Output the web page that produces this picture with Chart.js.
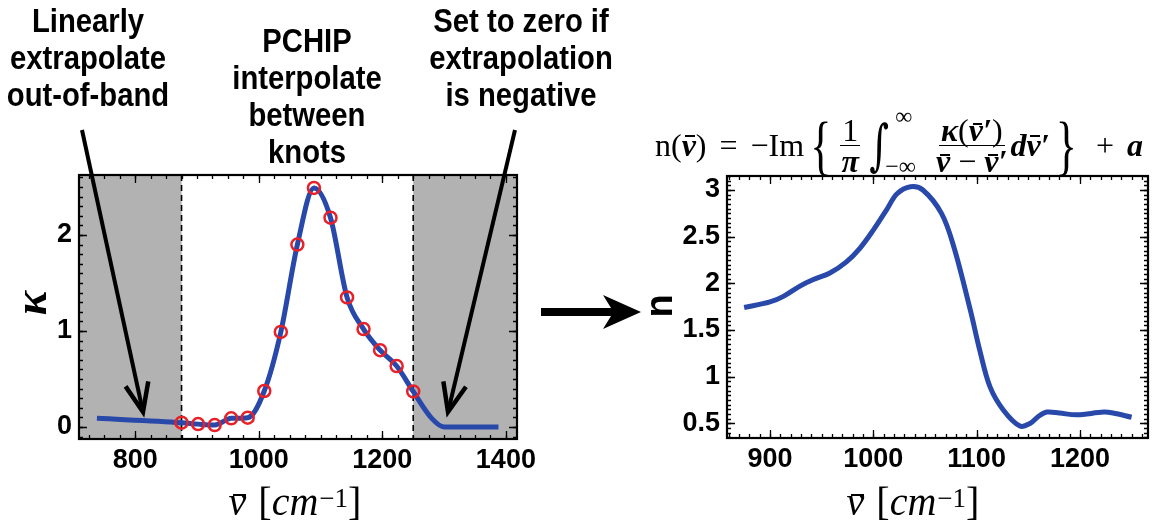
<!DOCTYPE html>
<html>
<head>
<meta charset="utf-8">
<script src="https://cdn.jsdelivr.net/npm/chart.js@4.4.1/dist/chart.umd.min.js"></script>
<style>
  html, body { margin: 0; padding: 0; background: #fff; }
  body { width: 1156px; height: 523px; position: relative; overflow: hidden; }
  canvas { position: absolute; top: 0; }
  #kappaChart { left: 0; }
  #nChart { left: 600px; }
  .note {
    position: absolute; width: 280px; text-align: center;
    font-family: 'Liberation Sans', Arial, sans-serif; font-weight: bold;
    font-size: 34px; line-height: 37px; color: #000;
    transform: scaleX(0.86); transform-origin: center top;
  }
  .axtitle {
    position: absolute; width: 300px; text-align: center; white-space: nowrap;
    font-family: 'Liberation Serif', 'DejaVu Serif', serif; font-size: 40px; line-height: 40px; color: #000;
  }
  .axtitle sup { font-size: 27px; font-style: normal; position: relative; top: -4px; vertical-align: top; margin-left: 1px; }
  .gap { display: inline-block; width: 12px; }
  .nb { position: relative; display: inline-block; font-style: italic; }
  .nb::after { content: ''; position: absolute; left: 0.12em; right: 0.02em; top: 0.29em; border-top: 0.055em solid #000; }
  .ytitle {
    position: absolute; width: 60px; height: 50px; line-height: 50px; text-align: center; color: #000;
    transform: rotate(-90deg);
  }
  #kappaTitle { font-family: 'Liberation Serif', 'DejaVu Serif', serif; font-style: italic; font-weight: bold; font-size: 46px; }
  #nTitle { font-family: 'Liberation Sans', Arial, sans-serif; font-weight: bold; font-size: 38px; }
  .math {
    position: absolute; display: flex; align-items: center; white-space: nowrap;
    font-family: 'Liberation Serif', 'DejaVu Serif', serif; font-size: 32px; color: #000;
  }
  .bv { font-weight: bold; font-style: italic; }
  .math .nb::after { top: 0.27em; border-top-width: 0.07em; }
  .sp { display: inline-block; width: 13px; }
  .frac { display: inline-flex; flex-direction: column; align-items: center; margin: 0 3px; line-height: 30px; }
  .frac > span:first-child { border-bottom: 1.4px solid #000; padding: 0 2px; }
  .brace { font-size: 44px; display: inline-block; transform: scaleY(1.5); font-weight: normal; margin: 0 6px; }
  .intg { position: relative; display: inline-block; font-family: 'DejaVu Serif', serif; font-size: 38px; margin: 0 44px 0 6px; }
  .intg .glyph { display: inline-block; transform: scaleY(1.45); }
  .intg .sup, .intg .sub { position: absolute; font-family: 'Liberation Serif', serif; font-size: 24px; white-space: nowrap; }
  .intg .sup { top: -20px; left: 26px; }
  .intg .sub { top: 30px; left: 16px; }
</style>
</head>
<body>
<canvas id="kappaChart" width="600" height="523"></canvas>
<canvas id="nChart" width="556" height="523"></canvas>

<div class="note" style="left:-52px; top:2px;">Linearly<br>extrapolate<br>out-of-band</div>
<div class="note" style="left:167px; top:22px;">PCHIP<br>interpolate<br>between<br>knots</div>
<div class="note" style="left:381px; top:2px;">Set to zero if<br>extrapolation<br>is negative</div>

<div class="axtitle" style="left:145px; top:482px;"><span class="nb">ν</span><span class="gap"></span>[<i>cm</i><sup>−1</sup>]</div>
<div class="axtitle" style="left:763px; top:482px;"><span class="nb">ν</span><span class="gap"></span>[<i>cm</i><sup>−1</sup>]</div>
<div class="ytitle" id="kappaTitle" style="left:1px; top:278px;">κ</div>
<div class="ytitle" id="nTitle" style="left:629px; top:281px;">n</div>

<div class="math" style="left:655px; top:114px; height:62px;">
  <span>n(</span><span class="bv nb">ν</span><span>)</span>
  <span class="sp"></span><span>=</span><span class="sp"></span>
  <span>−Im</span>
  <span class="brace">{</span>
  <span class="frac"><span>1</span><span class="bv">π</span></span>
  <span class="intg"><span class="glyph">∫</span><span class="sup">∞</span><span class="sub">−∞</span></span>
  <span class="frac"><span><span class="bv">κ</span>(<span class="bv nb">ν</span><span class="bv">′</span>)</span><span><span class="bv nb">ν</span> − <span class="bv nb">ν</span><span class="bv">′</span></span></span>
  <span class="bv">d</span><span class="bv nb">ν</span><span class="bv">′</span>
  <span class="brace">}</span>
  <span class="sp"></span><span>+</span><span class="sp"></span>
  <span class="bv">a</span>
</div>

<svg id="arrows" width="1156" height="523" style="position:absolute;left:0;top:0;pointer-events:none;"></svg>

<script>
// ---- absorption spectrum κ: PCHIP knots and the extrapolated ends ----
const knotWavenumber = [875, 901.8, 928.6, 955.4, 982.1, 1008.9, 1035.7, 1062.5,
                        1089.3, 1116.1, 1142.9, 1169.6, 1196.4, 1223.2, 1250];
const knotKappa = [0.045, 0.03, 0.02, 0.09, 0.097, 0.375, 0.99, 1.9,
                   2.49, 2.18, 1.35, 1.02, 0.80, 0.635, 0.37];
const lowExtrapWavenumber = [738];
const lowExtrapKappa = [0.09];
const highExtrapWavenumber = [1280, 1300, 1388];
const highExtrapKappa = [0.09, 0.0, 0.0];
const bandEdges = [875, 1250];
const kappaTicksX = [800, 1000, 1200, 1400];
const kappaTicksY = [0, 1, 2];

// ---- refractive index n from the Kramers-Kronig transform ----
const nWavenumber = [875, 900, 913, 929, 942, 958, 974, 987, 1000, 1013, 1023, 1036, 1048,
                     1066, 1078, 1094, 1103, 1113, 1126, 1142, 1152, 1160, 1168, 1180, 1197,
                     1223, 1232, 1250];
const nValue = [1.74, 1.80, 1.86, 1.97, 2.04, 2.11, 2.23, 2.375, 2.57, 2.79, 2.96, 3.035, 3.0,
                2.75, 2.39, 1.71, 1.285, 0.89, 0.64, 0.47, 0.50, 0.575, 0.62, 0.61, 0.59,
                0.62, 0.61, 0.565];
const nTicksX = [900, 1000, 1100, 1200];
const nTicksY = [0.5, 1, 1.5, 2, 2.5, 3];

const BLUE = 'rgb(40, 72, 170)';
const RED = 'rgb(232, 32, 40)';
const SHADE = 'rgb(178, 178, 178)';

const toXY = (xs, ys) => xs.map((x, i) => ({ x, y: ys[i] }));

// frame, inward ticks on all sides, shaded out-of-band regions
const framePlugin = {
  id: 'frame',
  beforeDatasetsDraw(chart, args, o) {
    const { ctx, chartArea: a, scales: { x } } = chart;
    if (!o.band) return;
    const x0 = x.getPixelForValue(o.band[0]);
    const x1 = x.getPixelForValue(o.band[1]);
    ctx.save();
    ctx.fillStyle = SHADE;
    ctx.fillRect(a.left, a.top, x0 - a.left, a.bottom - a.top);
    ctx.fillRect(x1, a.top, a.right - x1, a.bottom - a.top);
    ctx.strokeStyle = '#000';
    ctx.lineWidth = 1.6;
    ctx.setLineDash([6, 4]);
    [x0, x1].forEach(px => {
      ctx.beginPath(); ctx.moveTo(px, a.top); ctx.lineTo(px, a.bottom); ctx.stroke();
    });
    ctx.restore();
  },
  afterDraw(chart, args, o) {
    const { ctx, chartArea: a, scales: { x, y } } = chart;
    ctx.save();
    ctx.strokeStyle = '#000';
    ctx.lineWidth = 1.3;
    const mark = (vals, len, scale, horizontal) => {
      vals.forEach(v => {
        const p = Math.round(scale.getPixelForValue(v)) + 0.5;
        ctx.beginPath();
        if (horizontal) {
          ctx.moveTo(p, a.bottom); ctx.lineTo(p, a.bottom - len);
          ctx.moveTo(p, a.top); ctx.lineTo(p, a.top + len);
        } else {
          ctx.moveTo(a.left, p); ctx.lineTo(a.left + len, p);
          ctx.moveTo(a.right, p); ctx.lineTo(a.right - len, p);
        }
        ctx.stroke();
      });
    };
    const steps = (scale, step) => {
      const out = [];
      for (let k = Math.ceil(scale.min / step - 1e-9); k * step <= scale.max + 1e-9; k++) out.push(k * step);
      return out;
    };
    mark(steps(x, o.minorX), 4, x, true);
    mark(steps(y, o.minorY), 4, y, false);
    mark(o.majorX, 8, x, true);
    mark(o.majorY, 8, y, false);
    ctx.lineWidth = 2.2;
    ctx.strokeRect(a.left, a.top, a.right - a.left, a.bottom - a.top);
    ctx.restore();
  }
};

const tickFont = { family: "'Liberation Sans', Arial, sans-serif", size: 27, weight: 'bold' };

function axis(min, max, tickVals, fixedSize, isX, pad) {
  return {
    type: 'linear', min, max,
    grid: { display: false, drawTicks: false },
    border: { display: false },
    afterBuildTicks: s => { s.ticks = tickVals.map(v => ({ value: v })); },
    afterFit: s => { if (isX) s.height = fixedSize; else s.width = fixedSize; },
    ticks: { font: tickFont, color: '#000', padding: pad, maxRotation: 0, autoSkip: false,
             callback: v => String(v) }
  };
}

const common = {
  responsive: false, animation: false, devicePixelRatio: 1,
  plugins: { legend: { display: false }, tooltip: { enabled: false } }
};

new Chart(document.getElementById('kappaChart'), {
  type: 'line',
  data: {
    datasets: [
      { data: toXY(knotWavenumber, knotKappa), showLine: false, order: 0,
        pointRadius: 6, pointBorderWidth: 2.5, pointBorderColor: RED,
        pointBackgroundColor: 'rgba(0,0,0,0)' },
      { data: toXY(lowExtrapWavenumber.concat(knotWavenumber, highExtrapWavenumber),
                   lowExtrapKappa.concat(knotKappa, highExtrapKappa)),
        order: 1, borderColor: BLUE, borderWidth: 5, pointRadius: 0,
        cubicInterpolationMode: 'monotone', borderCapStyle: 'butt' }
    ]
  },
  options: Object.assign({}, common, {
    layout: { padding: { left: 19, right: 83, top: 175, bottom: 44 } },
    scales: {
      x: axis(709, 1418, kappaTicksX, 40, true, 5),
      y: axis(-0.125, 2.625, kappaTicksY, 60, false, 7)
    },
    plugins: Object.assign({}, common.plugins, {
      frame: { band: bandEdges, minorX: 25, minorY: 0.1, majorX: kappaTicksX, majorY: kappaTicksY }
    })
  }),
  plugins: [framePlugin]
});

new Chart(document.getElementById('nChart'), {
  type: 'line',
  data: {
    datasets: [
      { data: toXY(nWavenumber, nValue), borderColor: BLUE, borderWidth: 5, pointRadius: 0,
        tension: 0.35 }
    ]
  },
  options: Object.assign({}, common, {
    layout: { padding: { left: 67, right: 8, top: 176, bottom: 45 } },
    scales: {
      x: axis(858.4, 1265.9, nTicksX, 40, true, 5),
      y: axis(0.342, 3.15, nTicksY, 60, false, 7)
    },
    plugins: Object.assign({}, common.plugins, {
      frame: { minorX: 10, minorY: 0.05, majorX: nTicksX, majorY: nTicksY }
    })
  }),
  plugins: [framePlugin]
});

// callout arrows and the transform arrow between the panels
(function drawArrows() {
  const svg = document.getElementById('arrows');
  const NS = 'http://www.w3.org/2000/svg';
  const add = (tag, attrs) => {
    const el = document.createElementNS(NS, tag);
    Object.entries(attrs).forEach(([k, v]) => el.setAttribute(k, v));
    svg.appendChild(el);
  };
  const callout = (x0, y0, x1, y1) => {
    const dx = x1 - x0, dy = y1 - y0, L = Math.hypot(dx, dy);
    const ux = -dx / L, uy = -dy / L;
    const ang = 22 * Math.PI / 180, len = 31;
    const w = s => [x1 + len * (ux * Math.cos(s * ang) - uy * Math.sin(s * ang)),
                    y1 + len * (ux * Math.sin(s * ang) + uy * Math.cos(s * ang))];
    const a = w(1), b = w(-1);
    add('line', { x1: x0, y1: y0, x2: x1, y2: y1, stroke: '#000', 'stroke-width': 4 });
    add('polyline', { points: `${a[0]},${a[1]} ${x1},${y1} ${b[0]},${b[1]}`, fill: 'none',
                      stroke: '#000', 'stroke-width': 4.5, 'stroke-linejoin': 'miter' });
  };
  callout(82, 130, 143, 412);
  callout(515, 130, 448, 412);
  add('polygon', { points: '541,308 611,308 603,295 641,312 603,329 611,316 541,316', fill: '#000' });
})();
</script>
</body>
</html>
